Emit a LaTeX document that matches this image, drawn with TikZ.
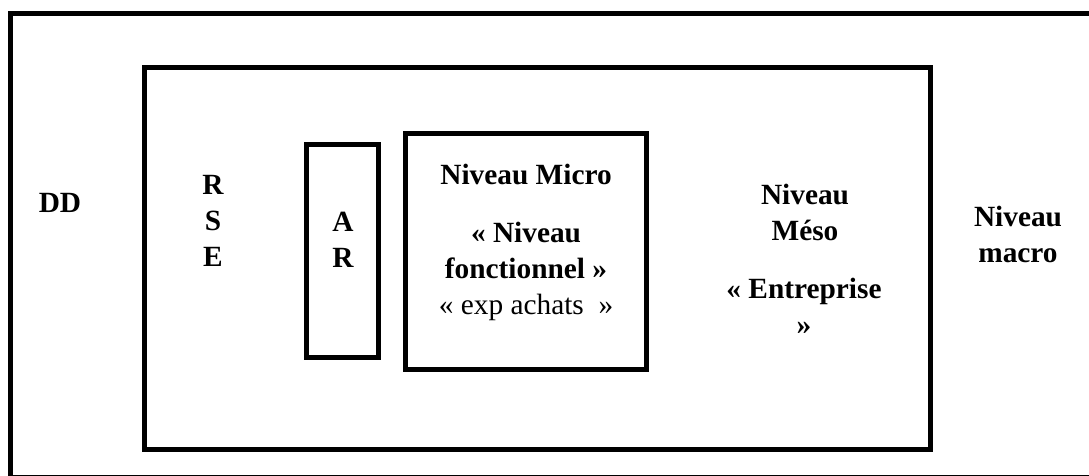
\documentclass[tikz,border=0pt]{standalone}
\usepackage{fontspec}
\setmainfont{Liberation Serif}
\usetikzlibrary{fit}
\begin{document}
\begin{tikzpicture}[x=0.75pt,y=-0.75pt,
  frame/.style={draw=black,line width=3.75pt,inner sep=0pt},
  lbl/.style={font=\fontsize{22}{27}\selectfont\bfseries,align=center,anchor=base,inner sep=0pt},
  plainlbl/.style={font=\fontsize{22}{27}\selectfont,align=center,anchor=base,inner sep=0pt}]
\useasboundingbox (0,0) rectangle (1089,475);
\fill[white] (0,0) rectangle (1089,475);
\clip (0,0) rectangle (1089,475);
% frames
\coordinate (o1) at (10.5,13.5); \coordinate (o2) at (1100,477.3);
\node[frame,fit=(o1)(o2)] (outer) {};
\coordinate (m1) at (144.2,67.5); \coordinate (m2) at (930,449.5);
\node[frame,fit=(m1)(m2)] (meso) {};
\coordinate (a1) at (306.8,144.2); \coordinate (a2) at (378.3,357.5);
\node[frame,fit=(a1)(a2)] (arbox) {};
\coordinate (u1) at (405.8,133); \coordinate (u2) at (646.5,369.5);
\node[frame,fit=(u1)(u2)] (micro) {};
% labels (base anchor = baseline of the last line)
\node[lbl] (dd) at (60,212) {DD};
\node[lbl] (rse) at (213,266) {R\\S\\E};
\node[lbl] (ar) at (343,267.3) {A\\R};
\node[lbl] (microtitle) at (526,184) {Niveau Micro};
\node[lbl] (fonct) at (526,278) {« Niveau\\fonctionnel »};
\node[plainlbl] (exp) at (526,314) {« exp achats~~»};
\node[lbl] (mesotxt) at (805,240) {Niveau\\Méso};
\node[lbl] (entr) at (804,334) {« Entreprise\\»};
\node[lbl] (macro) at (1018,262) {Niveau\\macro};
\end{tikzpicture}
\end{document}
